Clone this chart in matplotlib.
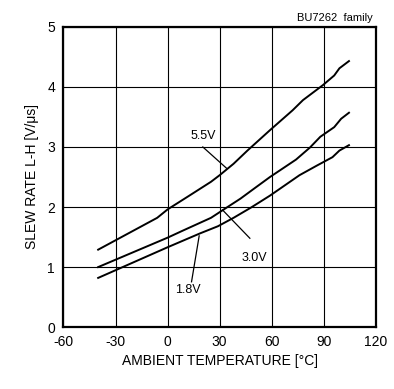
import numpy as np
import matplotlib.pyplot as plt

plt.rcParams['font.family'] = ['Liberation Sans', 'DejaVu Sans']
plt.rcParams['axes.unicode_minus'] = False

# Slew rate L-H vs ambient temperature
temp_55 = [-40, -6, 0, 12, 25, 30, 38, 46, 59, 72, 78, 89.5, 96, 99, 104.5]
sr_55 = [1.29, 1.82, 1.96, 2.18, 2.42, 2.53, 2.72, 2.94, 3.28, 3.61, 3.78, 4.03, 4.19, 4.31, 4.43]

temp_30 = [-40, 0, 9, 25, 34, 42, 50, 59, 74, 82, 88, 96, 100, 104.5]
sr_30 = [1.00, 1.49, 1.61, 1.82, 1.99, 2.14, 2.31, 2.50, 2.79, 2.99, 3.17, 3.33, 3.47, 3.57]

temp_18 = [-40, 0, 18.6, 29, 38, 48, 59, 76, 86, 95, 99, 104.5]
sr_18 = [0.82, 1.33, 1.56, 1.68, 1.82, 1.99, 2.19, 2.53, 2.69, 2.83, 2.94, 3.03]

xticks = [-60, -30, 0, 30, 60, 90, 120]
yticks = [0, 1, 2, 3, 4, 5]

fig = plt.figure(figsize=(3.94, 3.89), dpi=100)
ax = fig.add_axes([0.161, 0.159, 0.793, 0.772])

for t, s in [(temp_55, sr_55), (temp_30, sr_30), (temp_18, sr_18)]:
    ax.plot(t, s, color='black', linewidth=1.4, zorder=3)

ax.set_xlim(-60, 120)
ax.set_ylim(0, 5)
ax.set_xticks(xticks)
ax.set_yticks(yticks)
ax.grid(True, color='black', linewidth=0.8)
ax.tick_params(length=0, pad=6, labelsize=10)
for sp in ax.spines.values():
    sp.set_linewidth(1.6)

ax.set_xlabel('AMBIENT TEMPERATURE [\u00b0C]', fontsize=10, labelpad=3)
ax.set_ylabel('SLEW RATE L-H [V/\u03bcs]', fontsize=10, labelpad=6)

# curve labels with leader lines
ax.plot([20.3, 34], [3.0, 2.645], color='black', linewidth=0.9, zorder=3)
ax.text(20.5, 3.18, '5.5V', fontsize=9, ha='center', va='center')
ax.plot([31.7, 47.4], [1.95, 1.48], color='black', linewidth=0.9, zorder=3)
ax.text(50.2, 1.15, '3.0V', fontsize=9, ha='center', va='center')
ax.plot([18.2, 13.8], [1.52, 0.755], color='black', linewidth=0.9, zorder=3)
ax.text(11.9, 0.62, '1.8V', fontsize=9, ha='center', va='center')

fig.text(0.947, 0.955, 'BU7262  family', fontsize=8, ha='right', va='center')

fig.savefig('out.png', dpi=100)
